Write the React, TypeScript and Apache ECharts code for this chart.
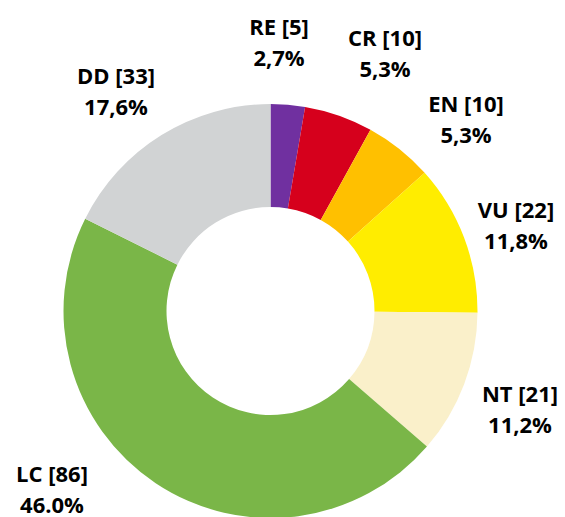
import React, { useEffect, useRef } from "react";
import * as echarts from "echarts";

const categories = ["RE", "CR", "EN", "VU", "NT", "LC", "DD"];
const counts = [5, 10, 10, 22, 21, 86, 33];
const percentLabels = ["2,7%", "5,3%", "5,3%", "11,8%", "11,2%", "46.0%", "17,6%"];
const colors = ["#7030A0", "#D6001C", "#FFC000", "#FFED00", "#FAF0CA", "#7AB648", "#D1D3D4"];

// label block centres (layout, not data)
const labelAnchors: [number, number][] = [
  [279, 41],
  [385, 52],
  [466, 118],
  [516, 224],
  [520, 408],
  [52, 488],
  [116, 90],
];

export default function App() {
  const ref = useRef<HTMLDivElement>(null);
  useEffect(() => {
    if (!ref.current) return;
    const chart = echarts.init(ref.current, undefined, { renderer: "svg" });
    chart.setOption({
      animation: false,
      backgroundColor: "#ffffff",
      series: [
        {
          type: "pie",
          center: [270.5, 311],
          radius: [104, 207],
          startAngle: 90,
          clockwise: true,
          avoidLabelOverlap: false,
          label: {
            show: true,
            position: "outside",
            formatter: (p: any) => `${p.name} [${p.value}]\n${percentLabels[p.dataIndex]}`,
            fontFamily: "Open Sans",
            fontWeight: "bold",
            fontSize: 22,
            lineHeight: 31,
            color: "#000000",
            align: "center",
          },
          labelLine: { show: false },
          labelLayout: (params: any) => {
            const a = labelAnchors[params.dataIndex];
            return { x: a[0], y: a[1], align: "center", verticalAlign: "middle" };
          },
          data: categories.map((c, i) => ({
            name: c,
            value: counts[i],
            itemStyle: { color: colors[i] },
          })),
        },
      ],
    });
    return () => chart.dispose();
  }, []);
  return (
    <div
      ref={ref}
      style={{ position: "fixed", left: 0, top: 0, width: 565, height: 517 }}
    />
  );
}
